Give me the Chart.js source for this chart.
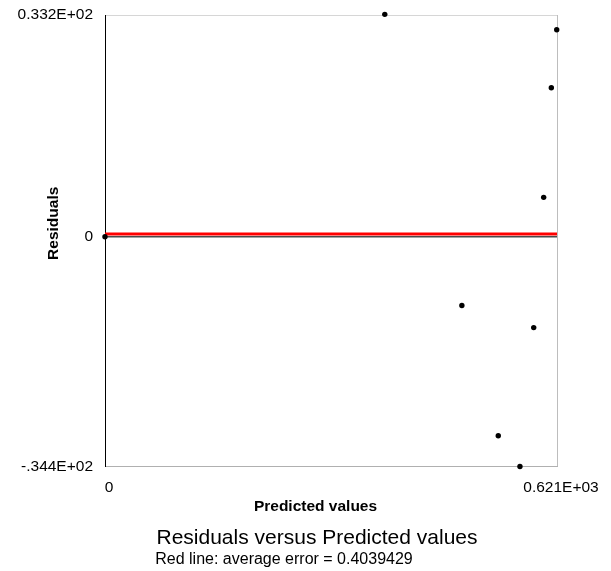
<!DOCTYPE html>
<html><head><meta charset="utf-8">
<script src="https://cdn.jsdelivr.net/npm/chart.js@4.4.1/dist/chart.umd.min.js"></script>
<style>html,body{margin:0;padding:0;background:#fff;}#wrap{width:611px;height:571px;}</style>
</head><body><div id="wrap"><canvas id="c" width="611" height="571"></canvas></div>
<script>
const predicted = [0, 384.4, 620.6, 613.2, 602.7, 490.3, 589.0, 540.3, 570.1];
const residuals = [0, 33.3, 31.0, 22.3, 5.9, -10.3, -13.6, -29.8, -34.4];
const averageError = 0.4039429;
const xTickValues = [0, 621];
const xTickLabels = ['0', '0.621E+03'];
const yTickValues = [-34.4, 0, 33.2];
const yTickLabels = ['-.344E+02', '0', '0.332E+02'];
const chartTitle = 'Residuals versus Predicted values';
const chartSubtitle = 'Red line: average error = 0.4039429';
const xAxisTitle = 'Predicted values';
const yAxisTitle = 'Residuals';

const FONT = '"Liberation Sans", Arial, sans-serif';

const textPlugin = {
  id: 'textLabels',
  afterDraw(chart) {
    const ctx = chart.ctx;
    ctx.save();
    ctx.fillStyle = '#000';
    ctx.textAlign = 'center';
    ctx.textBaseline = 'alphabetic';
    ctx.font = 'bold 15.5px ' + FONT;
    ctx.fillText(xAxisTitle, 315.5, 510.5);
    ctx.save();
    ctx.translate(57.5, 223.3);
    ctx.rotate(-Math.PI / 2);
    ctx.fillText(yAxisTitle, 0, 0);
    ctx.restore();
    ctx.font = '21px ' + FONT;
    ctx.fillText(chartTitle, 317, 544);
    ctx.font = '16px ' + FONT;
    ctx.fillText(chartSubtitle, 284, 563.5);
    ctx.restore();
  }
};

new Chart(document.getElementById('c'), {
  type: 'scatter',
  data: {
    datasets: [
      {
        data: predicted.map((x, i) => ({ x: x, y: residuals[i] })),
        pointRadius: 2.7,
        pointHoverRadius: 2.7,
        backgroundColor: '#000',
        borderWidth: 0,
        clip: false
      },
      {
        data: [{ x: xTickValues[0], y: averageError }, { x: xTickValues[1], y: averageError }],
        showLine: true,
        borderColor: '#ff0000',
        borderWidth: 3,
        pointRadius: 0,
        clip: false
      }
    ]
  },
  options: {
    responsive: false,
    devicePixelRatio: 1,
    animation: false,
    layout: { padding: { top: 15, right: 54, bottom: 74.5, left: 0 } },
    plugins: { legend: { display: false }, tooltip: { enabled: false } },
    scales: {
      x: {
        type: 'linear',
        min: xTickValues[0],
        max: xTickValues[1],
        afterBuildTicks: s => { s.ticks = xTickValues.map(v => ({ value: v })); },
        afterFit: s => { s.height = 30; s.paddingLeft = 0; s.paddingRight = 0; },
        ticks: {
          callback: v => xTickLabels[xTickValues.indexOf(v)],
          font: { family: FONT, size: 15.5 },
          color: '#000',
          padding: 12,
          labelOffset: 4,
          maxRotation: 0,
          autoSkip: false
        },
        grid: {
          drawTicks: false,
          lineWidth: 1,
          color: c => (c.tick && c.tick.value === xTickValues[1]) ? '#bdbdbd' : 'rgba(0,0,0,0)'
        },
        border: { color: '#b0b0b0', width: 1 }
      },
      y: {
        type: 'linear',
        min: yTickValues[0],
        max: yTickValues[2],
        afterBuildTicks: s => { s.ticks = yTickValues.map(v => ({ value: v })); },
        afterFit: s => { s.width = 105; s.paddingTop = 0; s.paddingBottom = 0; },
        ticks: {
          callback: v => yTickLabels[yTickValues.indexOf(v)],
          font: { family: FONT, size: 15.5 },
          color: '#000',
          padding: 12,
          autoSkip: false
        },
        grid: {
          drawTicks: false,
          lineWidth: c => (c.tick && c.tick.value === 0) ? 1.5 : 1,
          color: c => {
            if (!c.tick) return 'rgba(0,0,0,0)';
            if (c.tick.value === 0) return '#4a4a4a';
            if (c.tick.value === yTickValues[2]) return '#d6d6d6';
            return 'rgba(0,0,0,0)';
          }
        },
        border: { color: '#000', width: 1 }
      }
    }
  },
  plugins: [textPlugin]
});
</script>
</body></html>
